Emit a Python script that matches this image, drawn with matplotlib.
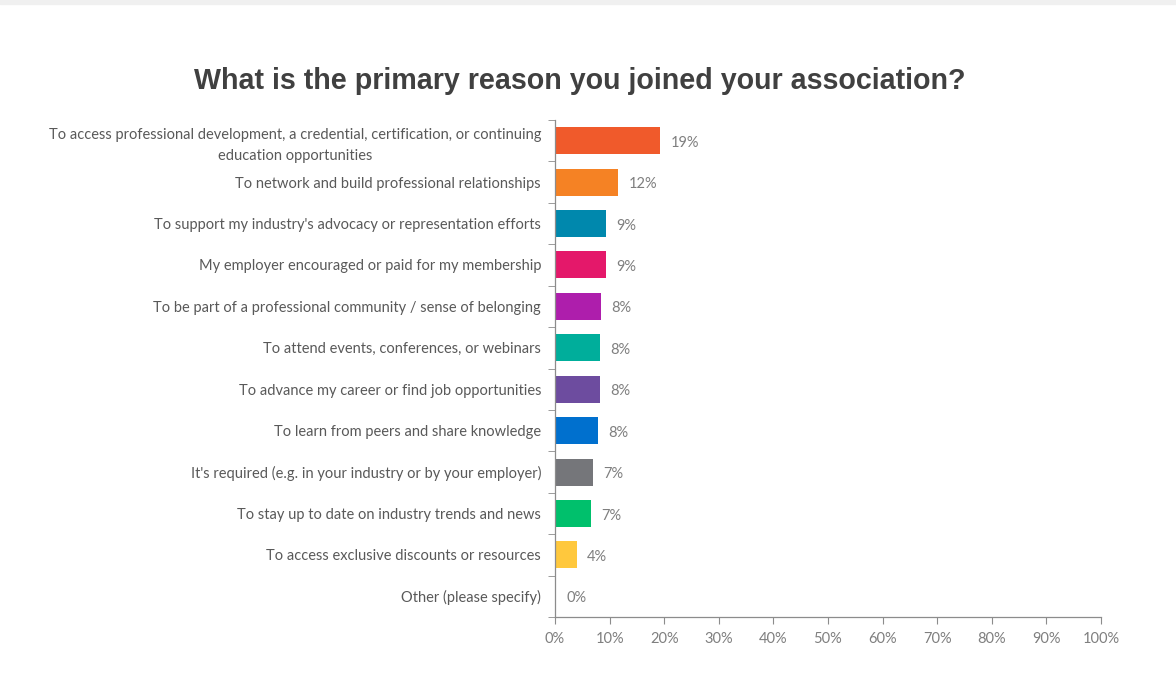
import matplotlib.pyplot as plt
import matplotlib.patches as mpatches
from matplotlib.ticker import FixedLocator, PercentFormatter

plt.rcParams['font.family'] = ['Lato', 'DejaVu Sans']

# survey answers, top to bottom
reasons = [
    'To access professional development, a credential, certification, or continuing\neducation opportunities',
    'To network and build professional relationships',
    "To support my industry's advocacy or representation efforts",
    'My employer encouraged or paid for my membership',
    'To be part of a professional community / sense of belonging',
    'To attend events, conferences, or webinars',
    'To advance my career or find job opportunities',
    'To learn from peers and share knowledge',
    "It's required (e.g. in your industry or by your employer)",
    'To stay up to date on industry trends and news',
    'To access exclusive discounts or resources',
    'Other (please specify)',
]
shares = [19.3, 11.6, 9.3, 9.3, 8.4, 8.3, 8.3, 7.8, 7.0, 6.6, 4.0, 0.2]
colors = ['#F05A2B', '#F58224', '#0088AD', '#E4186A', '#AE1EAC', '#00AE9B',
          '#6D4C9F', '#0070CE', '#75767A', '#00C06C', '#FFC83D', '#4472C4']

fig = plt.figure(figsize=(11.76, 6.98), dpi=100)
fig.patches.append(mpatches.Rectangle((0, 1 - 4 / 698), 1, 4 / 698,
                                      transform=fig.transFigure, color='#F0F0F0', zorder=0))
ax = fig.add_axes([555 / 1176, 1 - 617 / 698, 546 / 1176, 497 / 698])

ypos = list(range(len(reasons)))
bars = ax.barh(ypos, shares, height=0.65, color=colors)
ax.set_ylim(len(reasons) - 0.5, -0.5)
ax.set_xlim(0, 100)

for b, v in zip(bars, shares):
    ax.annotate(f'{v:.0f}%', (b.get_width(), b.get_y() + b.get_height() / 2),
                xytext=(7.5, -1.5), textcoords='offset points', va='center', ha='left',
                fontsize=10.5, color='#7F7F7F')

ax.set_yticks(ypos)
ax.set_yticklabels(reasons, fontsize=10.5, color='#595959')
for lab in ax.get_yticklabels():
    lab.set_multialignment('center')
    lab.set_linespacing(1.6)
ax.yaxis.set_minor_locator(FixedLocator([i - 0.5 for i in range(len(reasons) + 1)]))
ax.tick_params(axis='y', which='major', length=0, pad=10)
ax.tick_params(axis='y', which='minor', length=5, color='#8C8C8C')

ax.set_xticks(range(0, 101, 10))
ax.xaxis.set_major_formatter(PercentFormatter(decimals=0))
ax.tick_params(axis='x', length=5, color='#8C8C8C', labelcolor='#7F7F7F', labelsize=10.5, pad=6)

for s in ['top', 'right']:
    ax.spines[s].set_visible(False)
for s in ['left', 'bottom']:
    ax.spines[s].set_color('#8C8C8C')
    ax.spines[s].set_linewidth(0.9)

fig.text(0.493, 1 - 81 / 698, 'What is the primary reason you joined your association?',
         ha='center', va='center', fontsize=20.6, fontweight='bold', color='#404040',
         family=['Liberation Sans', 'DejaVu Sans'])

fig.savefig('out.png', dpi=100, facecolor='white')
